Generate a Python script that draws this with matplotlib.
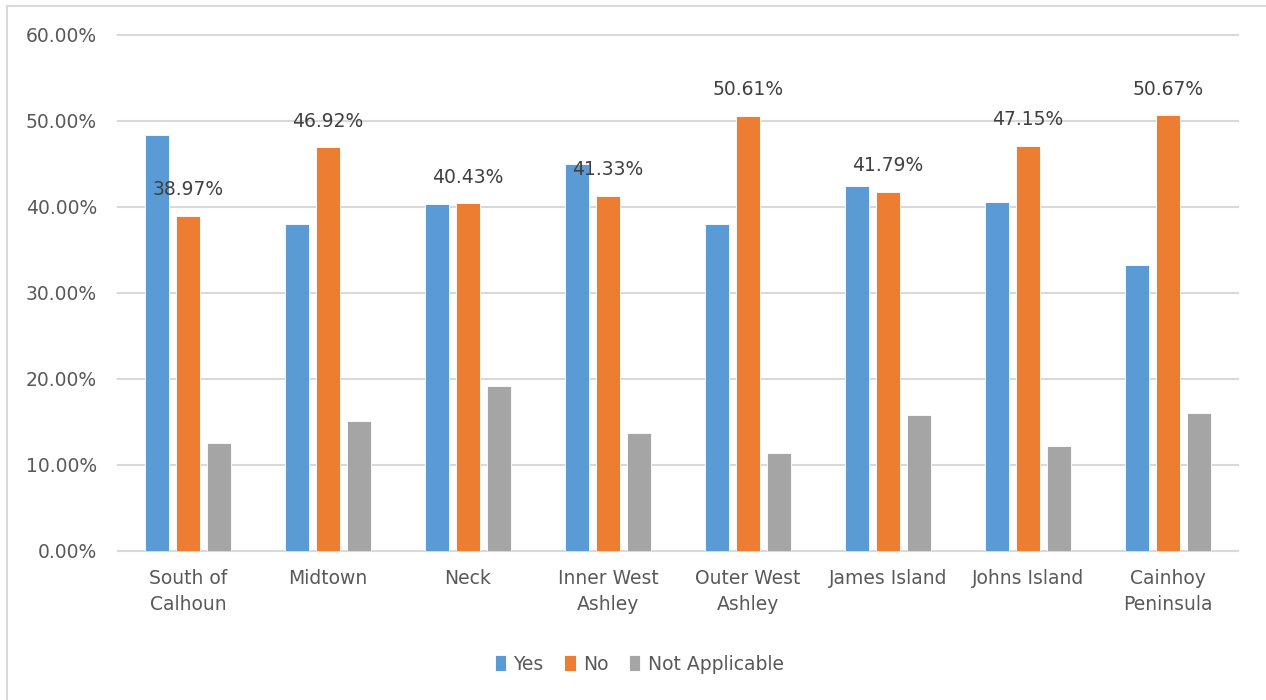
import numpy as np
import matplotlib
matplotlib.use("Agg")
import matplotlib.pyplot as plt
from matplotlib.patches import Rectangle
from matplotlib.ticker import FuncFormatter

categories = ["South of\nCalhoun", "Midtown", "Neck", "Inner West\nAshley", "Outer West\nAshley",
              "James Island", "Johns Island", "Cainhoy\nPeninsula"]
yes_vals = [48.4, 38.0, 40.4, 45.0, 38.0, 42.4, 40.6, 33.3]
no_vals = [38.97, 46.92, 40.43, 41.33, 50.61, 41.79, 47.15, 50.67]
na_vals = [12.6, 15.1, 19.2, 13.7, 11.4, 15.8, 12.2, 16.0]

series = [("Yes", yes_vals, "#5B9BD5"), ("No", no_vals, "#ED7D31"), ("Not Applicable", na_vals, "#A5A5A5")]
txt = "#595959"

fig = plt.figure(figsize=(12.66, 7.0), dpi=100)
ax = fig.add_axes([118/1266, 1-551/700, (1238-118)/1266, (551-35)/700])

x = np.arange(len(categories))
w = 0.175
step = 0.22
for i, (name, vals, col) in enumerate(series):
    bars = ax.bar(x + (i-1)*step, vals, width=w, color=col, edgecolor="white", linewidth=0.6, label=name, zorder=3)
    if name == "No":
        for b, v in zip(bars, vals):
            ax.annotate(f"{v:.2f}%", (b.get_x()+b.get_width()/2, v), xytext=(0, 26),
                        textcoords="offset pixels", ha="center", va="center", fontsize=13.5, color="#404040", zorder=4)

ax.set_xlim(-0.5, len(categories)-0.5)
ax.set_ylim(0, 60)
ax.set_yticks(np.arange(0, 61, 10))
ax.yaxis.set_major_formatter(FuncFormatter(lambda v, p: f"{v:.2f}%"))
ax.set_xticks(x)
ax.set_xticklabels(categories, fontsize=13.5, color=txt, linespacing=1.45)
ax.tick_params(axis="y", length=0, pad=15, labelsize=13.5, labelcolor=txt)
ax.tick_params(axis="x", length=0, pad=13)
ax.grid(axis="y", color="#D9D9D9", linewidth=1.5, zorder=0)
for gl in ax.get_ygridlines():
    gl.set_clip_on(False)
for s in ["top", "right", "left"]:
    ax.spines[s].set_visible(False)
ax.spines["bottom"].set_color("#D9D9D9")
ax.spines["bottom"].set_linewidth(1.5)

fig.legend(loc="center", bbox_to_anchor=(0.505, 1-664/700), ncol=3, frameon=False, fontsize=13.5,
           handlelength=0.6, handleheight=0.9, handletextpad=0.4, columnspacing=1.1, labelcolor=txt)

fig.patches.append(Rectangle((7/1266, -0.01), 1.1, 1-6/700+0.01, transform=fig.transFigure,
                             fill=False, edgecolor="#D9D9D9", linewidth=1.5))

fig.savefig("out.png", dpi=100)
